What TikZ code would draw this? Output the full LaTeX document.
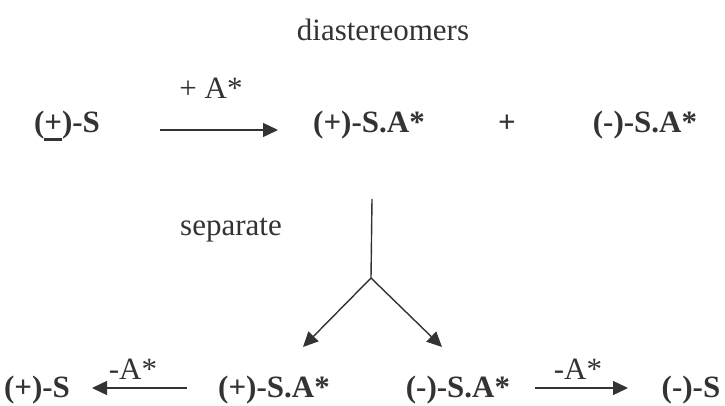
\documentclass[tikz,border=0pt]{standalone}
\usepackage{fontspec}
\setmainfont{Liberation Serif}
\usetikzlibrary{arrows.meta}
\definecolor{ink}{HTML}{333333}
\newcommand{\ulplus}{\rlap{\rule[-8pt]{0.57em}{2.6pt}}+}
\begin{document}
\begin{tikzpicture}[x=1pt,y=-1pt,
  every node/.style={inner sep=0pt,outer sep=0pt,text=ink,font=\fontsize{31}{36}\selectfont},
  chem/.style={font=\fontsize{31}{36}\selectfont\bfseries},
  lbl/.style={font=\fontsize{31}{36}\selectfont},
  rx/.style={draw=ink,line width=1.4pt,-{Triangle[length=15pt,width=14pt]}},
  ln/.style={draw=ink,line width=1.4pt}]
\useasboundingbox (0,0) rectangle (725,406);
% labels
\node[lbl] (dia) at (383,30) {diastereomers};
\node[lbl] (plusA) at (211,88) {+ A*};
\node[lbl] (sep) at (231,230) {separate};
% top row
\node[chem,anchor=base] (rac) at (67,133) {(\ulplus)-S};
\node[chem,anchor=base] (pSA) at (369,133) {(+)-S.A*};
\node[chem,anchor=base] (plus) at (507,133) {+};
\node[chem,anchor=base] (mSA) at (645,133) {(-)-S.A*};
\coordinate (a1s) at (160,130);
\coordinate (a1e) at (278,130);
\draw[rx] (a1s) -- (a1e);
% split
\coordinate (vtop) at (372,199);
\coordinate (vj) at (371,278);
\coordinate (tl) at (303,347);
\coordinate (tr) at (442,347);
\draw[ln] (vtop) -- (vj);
\draw[rx] (vj) -- (tl);
\draw[rx] (vj) -- (tr);
% bottom row
\node[chem,anchor=base] (pS) at (37,397) {(+)-S};
\node[chem,anchor=base] (pSA2) at (274,397) {(+)-S.A*};
\node[chem,anchor=base] (mSA2) at (458,397) {(-)-S.A*};
\node[chem,anchor=base] (mS) at (691,397) {(-)-S};
\node[lbl] (mA1) at (133,369) {-A*};
\node[lbl] (mA2) at (578,369) {-A*};
\coordinate (b1s) at (187,388);
\coordinate (b1e) at (92,388);
\coordinate (b2s) at (535,388);
\coordinate (b2e) at (628,388);
\draw[rx] (b1s) -- (b1e);
\draw[rx] (b2s) -- (b2e);
\end{tikzpicture}
\end{document}
